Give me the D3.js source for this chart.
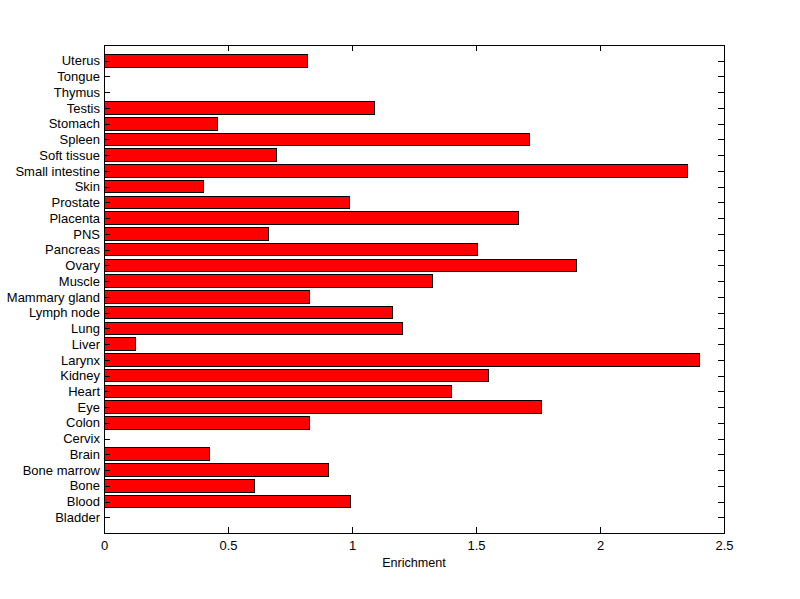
<!DOCTYPE html>
<html><head><meta charset="utf-8">
<script src="https://cdn.jsdelivr.net/npm/d3@7"></script>
<style>body{margin:0;background:#fff}svg{display:block}text{font-family:"Liberation Sans",Arial,sans-serif}</style>
</head><body>
<script>
const categories = ["Bladder","Blood","Bone","Bone marrow","Brain","Cervix","Colon","Eye","Heart","Kidney","Larynx","Liver","Lung","Lymph node","Mammary gland","Muscle","Ovary","Pancreas","PNS","Placenta","Prostate","Skin","Small intestine","Soft tissue","Spleen","Stomach","Testis","Thymus","Tongue","Uterus"];
const values = [0,0.995,0.608,0.906,0.426,0,0.830,1.765,1.402,1.551,2.403,0.128,1.204,1.164,0.830,1.325,1.906,1.506,0.664,1.671,0.991,0.402,2.353,0.697,1.717,0.459,1.092,0,0,0.822];
const xTicks = [0,0.5,1,1.5,2,2.5];
const xLabel = "Enrichment";

(function(){
const W=800,H=599;
const svg=d3.select("body").append("svg").attr("width",W).attr("height",H);
const L=104,R=724,T=45,B=533;
const x=d3.scaleLinear().domain([0,2.5]).range([L,R]);
const y=d3.scaleLinear().domain([0,categories.length+1]).range([B,T]);
const bh=(y(0)-y(0.8));
const data=categories.map((c,i)=>({c,v:values[i],i:i+1}));

svg.append("g").selectAll("rect").data(data.filter(d=>d.v>0)).join("rect")
  .attr("x",x(0)).attr("y",d=>y(d.i)-bh/2).attr("width",d=>x(d.v)-x(0)).attr("height",bh)
  .attr("fill","#ff0000").attr("stroke","#000").attr("stroke-width",1).attr("shape-rendering","crispEdges");

const fs="13px";
const gB=svg.append("g").attr("transform",`translate(0,${B})`)
  .call(d3.axisBottom(x).tickValues(xTicks).tickFormat(d3.format("")).tickSizeInner(-6).tickSizeOuter(0).tickPadding(8));
const gT=svg.append("g").attr("transform",`translate(0,${T})`)
  .call(d3.axisTop(x).tickValues(xTicks).tickFormat("").tickSizeInner(-6).tickSizeOuter(0));
const gL=svg.append("g").attr("transform",`translate(${L},0)`)
  .call(d3.axisLeft(y).tickValues(data.map(d=>d.i)).tickFormat(i=>categories[i-1]).tickSizeInner(-6).tickSizeOuter(0).tickPadding(4));
const gR=svg.append("g").attr("transform",`translate(${R},0)`)
  .call(d3.axisRight(y).tickValues(data.map(d=>d.i)).tickFormat("").tickSizeInner(-6).tickSizeOuter(0));
[gB,gT,gL,gR].forEach(g=>{
  g.select(".domain").remove();
  g.selectAll("line").attr("stroke","#000").attr("shape-rendering","crispEdges");
  g.selectAll("text").attr("fill","#000").style("font-size",fs).style("font-family",'"Liberation Sans",Arial,sans-serif');
});
svg.append("rect").attr("x",L).attr("y",T).attr("width",R-L).attr("height",B-T)
  .attr("fill","none").attr("stroke","#000").attr("stroke-width",1).attr("shape-rendering","crispEdges");
svg.append("text").attr("x",(L+R)/2).attr("y",567).attr("text-anchor","middle")
  .style("font-size","12.6px").text(xLabel);
})();
</script>
</body></html>
